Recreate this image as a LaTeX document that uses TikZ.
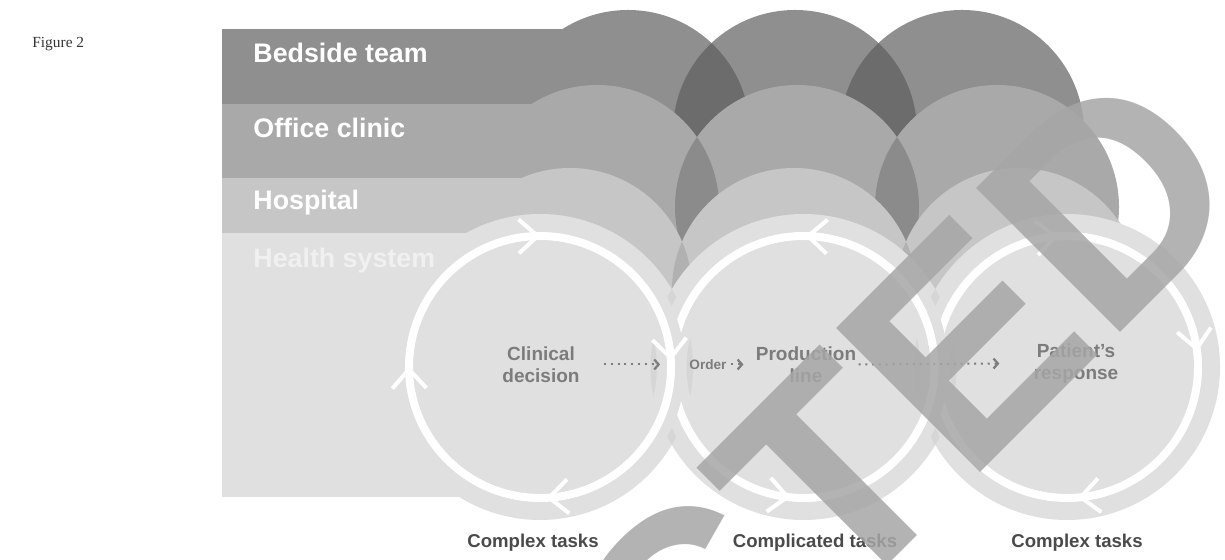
\documentclass[tikz,border=0pt]{standalone}
\usepackage{fontspec}
\setmainfont{Liberation Sans}
\newfontfamily\capfont{Liberation Serif}
\usetikzlibrary{positioning,calc,arrows.meta}

\definecolor{bedside}{HTML}{8F8F8F}
\definecolor{bedsidelens}{HTML}{6C6C6C}
\definecolor{office}{HTML}{A9A9A9}
\definecolor{officelens}{HTML}{8B8B8B}
\definecolor{hospital}{HTML}{C6C6C6}
\definecolor{hospitallens}{HTML}{B1B1B1}
\definecolor{health}{HTML}{E0E0E0}
\definecolor{healthlens}{HTML}{D6D6D6}
\definecolor{stepgray}{HTML}{7C7C7C}
\definecolor{taskgray}{HTML}{4A4A4A}
\definecolor{stampgray}{HTML}{A6A6A6}

\tikzset{
  tier label/.style={
    anchor=base west,
    inner sep=0pt,
    text=white,
    font=\bfseries\fontsize{13.4}{16}\selectfont
  },
  step text/.style={
    align=center,
    inner sep=2pt,
    text=stepgray,
    font=\bfseries\fontsize{9.5}{11}\selectfont
  },
  task label/.style={
    anchor=base,
    inner sep=0pt,
    text=taskgray,
    font=\bfseries\fontsize{9.3}{11}\selectfont
  },
  flow/.style={
    stepgray,
    line width=1pt,
    dash pattern=on 1pt off 2.4pt,
    -{Straight Barb[length=2.2pt,width=5pt,line width=1.1pt]}
  },
  halo/.style={health, line width=14pt},
  ring/.style={white, line width=4pt},
  chevron/.pic={
    \draw[white, line width=2pt] (-19,17) -- (0,0) -- (-19,-17);
  },
  stamp/.style={
    text=stampgray,
    text opacity=0.85,
    inner sep=0pt,
    font=\bfseries\fontsize{148}{148}\selectfont
  }
}

% one tier: band, three circles, darker overlaps
% #1 fill, #2 overlap, #3 band top, #4 centre y, #5 radius, #6 first x, #7 step
\newcommand{\tier}[7]{%
  \fill[#1] (222,#3) rectangle (#6,#4);
  \foreach \idx in {0,1,2}
    \fill[#1] ({#6+\idx*#7},#4) circle (#5);
  \foreach \idx in {0,1} {
    \begin{scope}
      \clip ({#6+\idx*#7},#4) circle (#5);
      \fill[#2] ({#6+(\idx+1)*#7},#4) circle (#5);
    \end{scope}
  }
}

\begin{document}
\begin{tikzpicture}[x=0.5pt, y=0.5pt]
  \useasboundingbox (0,0) rectangle (1225,560);
  \clip (0,0) rectangle (1225,560);

  \node[anchor=base west, inner sep=0pt, text=black!80,
        font=\capfont\fontsize{7.7}{9}\selectfont] (fig) at (32,512) {Figure 2};

  \tier{bedside}{bedsidelens}{531}{428}{122}{628}{167}
  \tier{office}{officelens}{456}{353}{122}{597}{200}
  \tier{hospital}{hospitallens}{382}{270}{122}{570}{224}

  % health system: wide band and the three loops
  \coordinate (loopA) at (540,193);
  \coordinate (loopB) at (803.5,193);
  \coordinate (loopC) at (1067,193);
  \fill[health] (222,63) rectangle (540,327);
  \foreach \c in {loopA,loopB,loopC}
    \fill[health] (\c) circle (153);
  \begin{scope}
    \clip (loopA) circle (153);
    \fill[healthlens] (loopB) circle (153);
  \end{scope}
  \begin{scope}
    \clip (loopB) circle (153);
    \fill[healthlens] (loopC) circle (153);
  \end{scope}
  \foreach \c in {loopC,loopB,loopA} {
    \draw[halo] (\c) circle (131);
    \draw[ring] (\c) circle (131);
  }
  \foreach \a in {91,4,-86,181}
    \pic[rotate=\a-90] at ($(loopA)+(\a:131)$) {chevron};
  \foreach \a in {88,-97}
    \pic[rotate=\a+90] at ($(loopB)+(\a:131)$) {chevron};
  \foreach \a in {95,8,-84}
    \pic[rotate=\a-90] at ($(loopC)+(\a:131)$) {chevron};

  \node[tier label] (bedsideL) at (253,497) {Bedside team};
  \node[tier label] (officeL) at (253,422) {Office clinic};
  \node[tier label] (hospitalL) at (253,350) {Hospital};
  \node[tier label, text=white!94!black] (healthL) at (253,292) {Health system};

  \node[step text] (clinical) at (541,195.5) {Clinical\\decision};
  \node[step text, font=\bfseries\fontsize{6.8}{8}\selectfont] (order) at (708,195.5) {Order};
  \node[step text] (production) at (806,195.5) {Production\\line};
  \node[step text] (response) at (1076,196.5) {Patient's\\response};

  \draw[flow] ([xshift=10pt]clinical.east) -- ([xshift=-12.5pt]order.west);
  \draw[flow] (order.east) -- ([xshift=-4pt]production.west);
  \draw[flow] ([xshift=-1pt]production.east) -- ([xshift=-15pt]response.west);

  \node[task label] (taskA) at (533,12) {Complex tasks};
  \node[task label] (taskB) at (815,12) {Complicated tasks};
  \node[task label] (taskC) at (1077,12) {Complex tasks};

  \node[stamp, rotate=45, anchor=base east] (stamp) at (1258,365) {REDACTED};
\end{tikzpicture}
\end{document}
